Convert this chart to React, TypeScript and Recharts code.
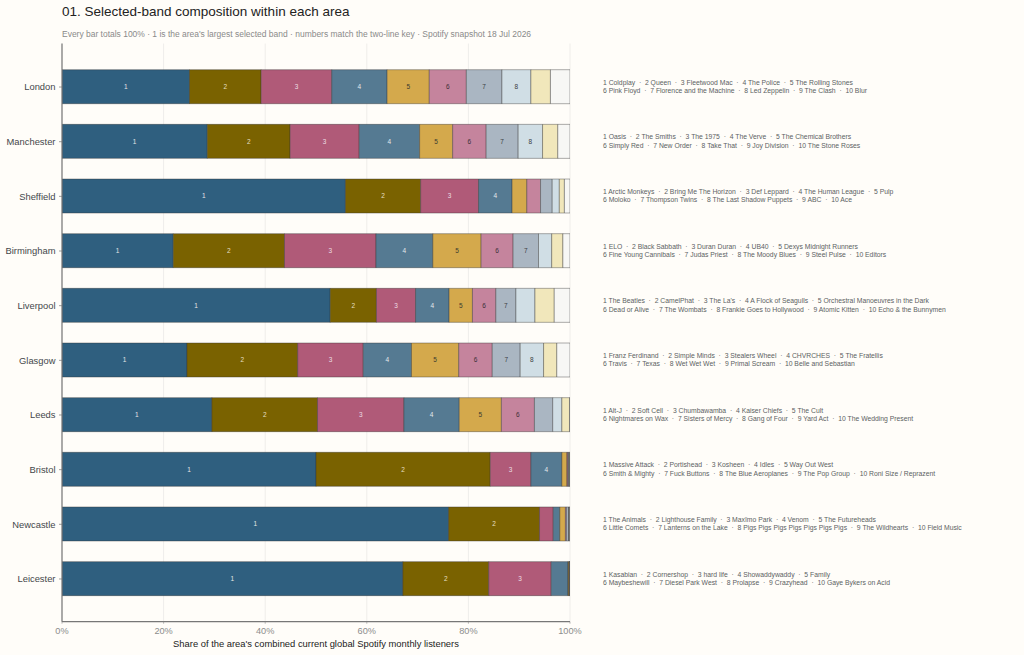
import React from "react";
import { BarChart, Bar, XAxis, YAxis, CartesianGrid, LabelList } from "recharts";

const areas = ["London","Manchester","Sheffield","Birmingham","Liverpool","Glasgow","Leeds","Bristol","Newcastle","Leicester"];

const londonShares = [25.1,14.1,13.9,10.9,8.3,7.3,7.0,5.7,3.85,3.85];
const manchesterShares = [28.6,16.3,13.6,11.9,6.5,6.6,6.3,4.8,3.0,2.4];
const sheffieldShares = [55.8,14.8,11.4,6.6,2.9,2.7,2.3,1.4,1.0,1.1];
const birminghamShares = [21.9,21.9,18.0,11.2,9.5,6.3,5.0,2.6,2.2,1.4];
const liverpoolShares = [52.8,9.1,7.7,6.6,4.6,4.6,3.95,3.75,3.8,3.2];
const glasgowShares = [24.6,21.8,12.9,9.5,9.3,6.6,5.5,4.6,2.6,2.6];
const leedsShares = [29.5,20.8,17.0,10.9,8.3,6.5,3.6,1.8,1.5,0.1];
const bristolShares = [50.0,34.3,8.0,6.1,1.0,0.2,0.15,0.1,0.1,0.05];
const newcastleShares = [76.1,17.9,2.7,1.3,1.1,0.2,0.4,0.1,0.1,0.1];
const leicesterShares = [67.1,16.9,12.3,3.3,0.2,0.05,0.05,0.03,0.02,0.05];

const allShares = [londonShares,manchesterShares,sheffieldShares,birminghamShares,liverpoolShares,glasgowShares,leedsShares,bristolShares,newcastleShares,leicesterShares];

const londonBands = ["Coldplay","Queen","Fleetwood Mac","The Police","The Rolling Stones","Pink Floyd","Florence and the Machine","Led Zeppelin","The Clash","Blur"];
const manchesterBands = ["Oasis","The Smiths","The 1975","The Verve","The Chemical Brothers","Simply Red","New Order","Take That","Joy Division","The Stone Roses"];
const sheffieldBands = ["Arctic Monkeys","Bring Me The Horizon","Def Leppard","The Human League","Pulp","Moloko","Thompson Twins","The Last Shadow Puppets","ABC","Ace"];
const birminghamBands = ["ELO","Black Sabbath","Duran Duran","UB40","Dexys Midnight Runners","Fine Young Cannibals","Judas Priest","The Moody Blues","Steel Pulse","Editors"];
const liverpoolBands = ["The Beatles","CamelPhat","The La's","A Flock of Seagulls","Orchestral Manoeuvres in the Dark","Dead or Alive","The Wombats","Frankie Goes to Hollywood","Atomic Kitten","Echo & the Bunnymen"];
const glasgowBands = ["Franz Ferdinand","Simple Minds","Stealers Wheel","CHVRCHES","The Fratellis","Travis","Texas","Wet Wet Wet","Primal Scream","Belle and Sebastian"];
const leedsBands = ["Alt-J","Soft Cell","Chumbawamba","Kaiser Chiefs","The Cult","Nightmares on Wax","Sisters of Mercy","Gang of Four","Yard Act","The Wedding Present"];
const bristolBands = ["Massive Attack","Portishead","Kosheen","Idles","Way Out West","Smith & Mighty","Fuck Buttons","The Blue Aeroplanes","The Pop Group","Roni Size / Reprazent"];
const newcastleBands = ["The Animals","Lighthouse Family","Maxïmo Park","Venom","The Futureheads","Little Comets","Lanterns on the Lake","Pigs Pigs Pigs Pigs Pigs Pigs Pigs","The Wildhearts","Field Music"];
const leicesterBands = ["Kasabian","Cornershop","hard life","Showaddywaddy","Family","Maybeshewill","Diesel Park West","Prolapse","Crazyhead","Gaye Bykers on Acid"];

const allBands = [londonBands,manchesterBands,sheffieldBands,birminghamBands,liverpoolBands,glasgowBands,leedsBands,bristolBands,newcastleBands,leicesterBands];

const ranks = [1,2,3,4,5,6,7,8,9,10];
const xTicks = [0,20,40,60,80,100];
const rankFills = ["#2f5f7f","#7a6200","#b05a78","#557a92","#d4a94c","#c5849d","#aab6c2","#d0dee5","#f1e7bb","#f7f7f5"];
const labelFills = ["#e4e6e6","#e6dfc0","#eddde3","#e4e9ec","#3a3a30","#3a3038","#3a3d42","#3a3d42","#333","#333"];

const rows = areas.map((area, i) => {
  const row: any = { area };
  ranks.forEach((r, j) => { row["r" + r] = allShares[i][j]; });
  return row;
});

const SEP = "\u00a0\u00a0·\u00a0\u00a0";
const FONT = '"Liberation Sans", Arial, sans-serif';

function bandLine(i: number, from: number, to: number) {
  return allBands[i].slice(from, to).map((n, k) => `${from + k + 1} ${n}`).join(SEP);
}

const rankLabel = (rank: number) => (props: any) => {
  const { x, y, width, height, value } = props;
  if (value < 3.9) return null;
  return (
    <text x={x + width / 2} y={y + height / 2} dy={2.3} textAnchor="middle" fontSize={6.5}
      fontFamily={FONT} fill={labelFills[rank - 1]}>{rank}</text>
  );
};

const keyLabel = (props: any) => {
  const { y, height, index } = props;
  const cy = y + height / 2;
  return (
    <g fontSize={6.8} fontFamily={FONT} fill="#5c5f63">
      <text x={603} y={cy - 1.9}>{bandLine(index, 0, 5)}</text>
      <text x={603} y={cy + 6.2}>{bandLine(index, 5, 10)}</text>
    </g>
  );
};

export default function App() {
  return (
    <div style={{ position: "fixed", left: 0, top: 0, width: 1024, height: 655, background: "#fffdf9", overflow: "hidden", fontFamily: FONT }}>
      <div style={{ position: "absolute", left: 62, top: 2, fontSize: 13.5, lineHeight: "20px", color: "#222", whiteSpace: "nowrap" }}>
        01. Selected-band composition within each area
      </div>
      <div style={{ position: "absolute", left: 62, top: 28, fontSize: 8.48, lineHeight: "12px", color: "#8a8a8a", whiteSpace: "nowrap" }}>
        Every bar totals 100% · 1 is the area's largest selected band · numbers match the two-line key · Spotify snapshot 18 Jul 2026
      </div>
      <BarChart width={1024} height={655} data={rows} layout="vertical"
        margin={{ top: 43.5, right: 454, bottom: 0, left: 0 }} barCategoryGap={0} stackOffset="none">
        <CartesianGrid horizontal={false} stroke="#efedea" strokeWidth={1} />
        <XAxis type="number" domain={[0, 100]} ticks={xTicks} allowDataOverflow tickFormatter={(v: number) => `${v}%`}
          stroke="#777" tickSize={2} tickMargin={4}
          tick={{ fontSize: 9.2, fill: "#8c8c8c", fontFamily: FONT }}
          axisLine={{ stroke: "#777", strokeWidth: 1.2 }} tickLine={{ stroke: "#888", strokeWidth: 0.6 }}
          height={33.3}
          label={{ value: "Share of the area's combined current global Spotify monthly listeners", position: "insideBottom", offset: 8, fontSize: 9.4, fill: "#222", fontFamily: FONT }} />
        <YAxis type="category" dataKey="area" width={62} interval={0} padding={{ top: 16.2, bottom: 15.4 }}
          tickSize={3} tickMargin={3.5}
          tick={{ fontSize: 9.4, fill: "#44474b", fontFamily: FONT }}
          axisLine={{ stroke: "#777", strokeWidth: 1.2 }} tickLine={{ stroke: "#777", strokeWidth: 0.7 }} />
        {ranks.map((r) => (
          <Bar key={r} dataKey={"r" + r} stackId="s" barSize={34} fill={rankFills[r - 1]}
            stroke="#333" strokeOpacity={0.5} strokeWidth={0.8} isAnimationActive={false}>
            <LabelList dataKey={"r" + r} content={rankLabel(r)} />
            {r === 10 ? <LabelList dataKey="area" content={keyLabel} /> : null}
          </Bar>
        ))}
      </BarChart>
    </div>
  );
}
